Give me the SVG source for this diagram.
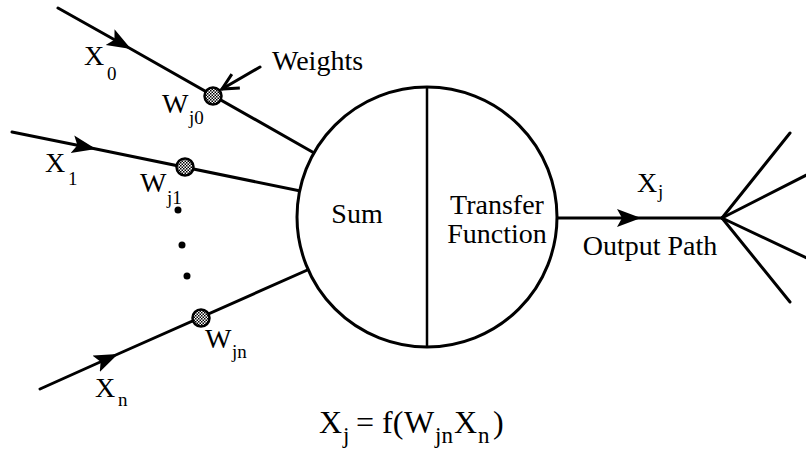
<svg xmlns="http://www.w3.org/2000/svg" width="806" height="458" viewBox="0 0 806 458">
<style>
.ln{stroke:#000;stroke-width:3;fill:none;stroke-linecap:round}
.t{font-family:"Liberation Serif","Times New Roman",serif;font-size:28px;fill:#000}
.s{font-size:19px}
.w{fill:url(#dots);stroke:#000;stroke-width:2.5}
</style>
<defs>
<pattern id="dots" width="3" height="3" patternUnits="userSpaceOnUse">
<rect width="3" height="3" fill="#fff"/>
<rect width="1.5" height="1.5" fill="#000"/>
<rect x="1.5" y="1.5" width="1.5" height="1.5" fill="#000"/>
</pattern>
<marker id="tri" markerUnits="userSpaceOnUse" markerWidth="26" markerHeight="20" refX="24" refY="9" orient="auto">
<path d="M0,0 L24,9 L0,18 L5,9 z" fill="#000"/>
</marker>
<marker id="vee" markerUnits="userSpaceOnUse" markerWidth="22" markerHeight="22" refX="18" refY="10" orient="auto">
<path d="M2,2 L18,10 L2,18" fill="none" stroke="#000" stroke-width="3"/>
</marker>
</defs>
<rect width="806" height="458" fill="#fff"/>
<g id="connectors">
<path class="ln" d="M58,8 L131,49 L330,162" marker-mid="url(#tri)"/>
<path class="ln" d="M12,132 L96,149 L320,195" marker-mid="url(#tri)"/>
<path class="ln" d="M40,389 L118,354 L330,260" marker-mid="url(#tri)"/>
<path class="ln" d="M260,67 L222,89" marker-end="url(#vee)"/>
<path class="ln" d="M540,218 L641,218 L722,218" marker-mid="url(#tri)"/>
<path class="ln" d="M722,218 L790,133"/>
<path class="ln" d="M722,218 L830,163"/>
<path class="ln" d="M722,218 L830,269"/>
<path class="ln" d="M722,218 L790,302"/>
</g>
<g id="neuron">
<circle cx="427" cy="217" r="130" fill="#fff" stroke="#000" stroke-width="3"/>
<line x1="427" y1="87" x2="427" y2="347" stroke="#000" stroke-width="2.5"/>
<text class="t" x="357" y="223" text-anchor="middle">Sum</text>
<text class="t" x="497" y="214" text-anchor="middle">Transfer</text>
<text class="t" x="497" y="243" text-anchor="middle">Function</text>
</g>
<g id="w0"><circle class="w" cx="213" cy="96" r="8.5"/></g>
<g id="w1"><circle class="w" cx="185" cy="167" r="8.5"/></g>
<g id="wn"><circle class="w" cx="201" cy="318" r="8.5"/></g>
<g id="ellipsis">
<circle cx="178" cy="210" r="3.5" fill="#000"/>
<circle cx="182" cy="245" r="3.5" fill="#000"/>
<circle cx="187" cy="276" r="3.5" fill="#000"/>
</g>
<g id="labels">
<text class="t" x="84" y="65">X</text><text class="t s" x="107" y="80">0</text>
<text class="t" x="45" y="172">X</text><text class="t s" x="68" y="185">1</text>
<text class="t" x="95" y="397">X</text><text class="t s" x="118" y="406">n</text>
<text class="t" x="162" y="113">W</text><text class="t s" x="189" y="124">j0</text>
<text class="t" x="140" y="192">W</text><text class="t s" x="167" y="204">j1</text>
<text class="t" x="205" y="348">W</text><text class="t s" x="232" y="358">jn</text>
<text class="t" x="272" y="70">Weights</text>
<text class="t" x="637" y="192">X</text><text class="t s" x="658" y="198">j</text>
<text class="t" x="650" y="255" text-anchor="middle">Output Path</text>
</g>
<g id="equation">
<text class="t" style="font-size:32px"><tspan x="319" y="433">X</tspan><tspan x="343" y="443" style="font-size:23px">j</tspan><tspan x="356" y="433">= f(</tspan><tspan x="404" y="433">W</tspan><tspan x="435" y="443" style="font-size:23px">jn</tspan><tspan x="454" y="433">X</tspan><tspan x="478" y="443" style="font-size:23px">n</tspan><tspan x="493" y="433">)</tspan></text>
</g>
</svg>
